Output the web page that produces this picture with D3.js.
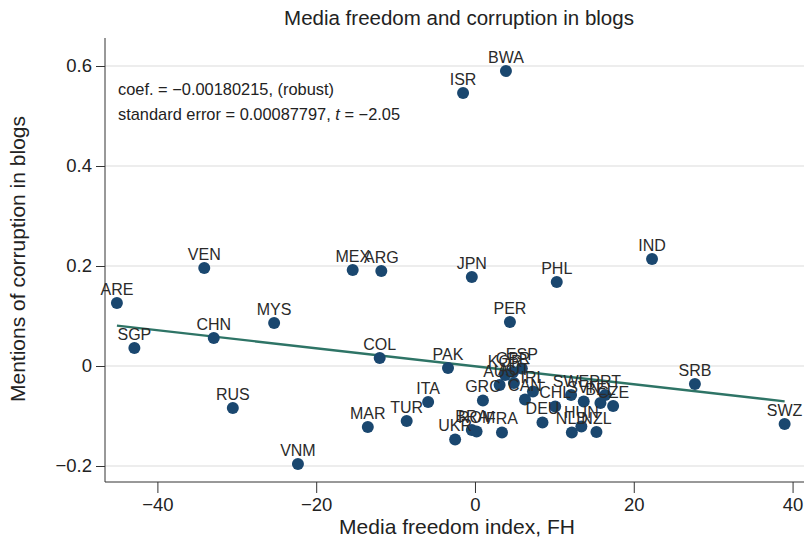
<!DOCTYPE html>
<html>
<head>
<meta charset="utf-8">
<script src="https://cdn.jsdelivr.net/npm/d3@7"></script>
<style>
  body { margin: 0; background: #fff; }
  svg { display: block; font-family: "Liberation Sans", Arial, sans-serif; }
</style>
</head>
<body>
<svg id="chart" width="804" height="541"></svg>
<script>
// country codes, media freedom index (FH) and blog corruption mentions
const countries = ['BWA', 'ISR', 'IND', 'VEN', 'MEX', 'ARG', 'JPN', 'PHL', 'ARE', 'MYS',
  'PER', 'CHN', 'SGP', 'COL', 'PAK', 'SRB', 'RUS', 'ITA', 'TUR', 'MAR',
  'SWZ', 'VNM', 'UKR', 'BRA', 'ROM', 'FRA', 'GRC', 'KOR', 'GBR', 'ESP',
  'AUS', 'AUT', 'CAN', 'IRL', 'CHL', 'DEU', 'SWE', 'SVN', 'BEL', 'PRT',
  'CZE', 'NLD', 'HUN', 'NZL'];
const mediaFreedom = [3.9, -1.5, 22.3, -34.1, -15.4, -11.8, -0.4, 10.3, -45.1, -25.3,
  4.4, -32.9, -42.9, -12.0, -3.4, 27.7, -30.5, -5.9, -8.6, -13.5,
  39.0, -22.3, -2.5, -0.4, 0.2, 3.4, 1.0, 3.8, 4.8, 5.9,
  3.1, 4.9, 6.3, 7.3, 10.1, 8.5, 12.1, 13.7, 15.8, 16.4,
  17.4, 12.2, 13.4, 15.3];
const blogCorruption = [0.590, 0.546, 0.214, 0.196, 0.192, 0.190, 0.178, 0.168, 0.126, 0.086,
  0.088, 0.056, 0.036, 0.016, -0.004, -0.036, -0.084, -0.072, -0.110, -0.122,
  -0.116, -0.196, -0.147, -0.128, -0.131, -0.133, -0.069, -0.018, -0.012, -0.005,
  -0.038, -0.034, -0.067, -0.051, -0.081, -0.113, -0.058, -0.071, -0.074, -0.058,
  -0.080, -0.133, -0.121, -0.132];
const xTicks = [-40, -20, 0, 20, 40];
const yTicks = [-0.2, 0, 0.2, 0.4, 0.6];
const slope = -0.00180215;
const intercept = -0.0005;

const data = countries.map((c, i) => ({ id: c, x: mediaFreedom[i], y: blogCorruption[i] }));

const svg = d3.select('#chart');
const plotLeft = 105;
const plotRight = 804;
const plotTop = 38;
const plotBottom = 482;

const x = d3.scaleLinear().domain([-46.6, 41.44]).range([plotLeft, plotRight]);
const y = d3.scaleLinear().domain([-0.232, 0.656]).range([plotBottom, plotTop]);

// gridlines
svg.append('g')
  .selectAll('line')
  .data(yTicks)
  .join('line')
    .attr('x1', plotLeft)
    .attr('x2', plotRight)
    .attr('y1', (d) => y(d))
    .attr('y2', (d) => y(d))
    .attr('stroke', '#dcdcdc')
    .attr('stroke-width', 1.2);

const fmtY = (d) => (d === 0 ? '0' : d3.format('.1f')(d).replace('-', '\u2212'));
const fmtX = (d) => String(d).replace('-', '\u2212');

// y axis
const yAxis = svg.append('g')
  .attr('transform', `translate(${plotLeft},0)`)
  .call(d3.axisLeft(y).tickValues(yTicks).tickFormat(fmtY).tickSize(9).tickPadding(4));
yAxis.select('.domain').attr('stroke', '#333').attr('d', `M0,${plotTop}V${plotBottom}`);
yAxis.selectAll('.tick line').attr('stroke', '#333');
yAxis.selectAll('.tick text')
  .attr('fill', '#222')
  .style('font-size', '18.5px')
  .style('font-family', '"Liberation Sans", Arial, sans-serif');

// x axis
const xAxis = svg.append('g')
  .attr('transform', `translate(0,${plotBottom})`)
  .call(d3.axisBottom(x).tickValues(xTicks).tickFormat(fmtX).tickSize(11).tickPadding(5));
xAxis.select('.domain').attr('stroke', '#333').attr('d', `M${plotLeft},0H${plotRight}`);
xAxis.selectAll('.tick line').attr('stroke', '#333');
xAxis.selectAll('.tick text')
  .attr('fill', '#222')
  .style('font-size', '18.5px')
  .style('font-family', '"Liberation Sans", Arial, sans-serif');

// fitted line
const xExt = d3.extent(mediaFreedom);
svg.append('line')
  .attr('x1', x(xExt[0]))
  .attr('y1', y(intercept + slope * xExt[0]))
  .attr('x2', x(xExt[1]))
  .attr('y2', y(intercept + slope * xExt[1]))
  .attr('stroke', '#2e7466')
  .attr('stroke-width', 2.4);

// points
svg.append('g')
  .selectAll('circle')
  .data(data)
  .join('circle')
    .attr('cx', (d) => x(d.x))
    .attr('cy', (d) => y(d.y))
    .attr('r', 6)
    .attr('fill', '#1a476f');

// labels
svg.append('g')
  .selectAll('text')
  .data(data)
  .join('text')
    .attr('x', (d) => x(d.x))
    .attr('y', (d) => y(d.y) - 8.5)
    .attr('text-anchor', 'middle')
    .attr('fill', '#2a2a2a')
    .style('font-size', '16px')
    .text((d) => d.id);

// annotation
const note = svg.append('g').attr('fill', '#222').style('font-size', '16.4px');
note.append('text')
  .attr('x', 118)
  .attr('y', 95)
  .text('coef. = \u22120.00180215, (robust)');
const t2 = note.append('text').attr('x', 118).attr('y', 120);
t2.append('tspan').text('standard error = 0.00087797, ');
t2.append('tspan').style('font-style', 'italic').text('t');
t2.append('tspan').text(' = \u22122.05');

// titles
svg.append('text')
  .attr('x', 459)
  .attr('y', 25)
  .attr('text-anchor', 'middle')
  .attr('fill', '#222')
  .style('font-size', '20.5px')
  .text('Media freedom and corruption in blogs');

svg.append('text')
  .attr('x', 457)
  .attr('y', 534)
  .attr('text-anchor', 'middle')
  .attr('fill', '#222')
  .style('font-size', '21px')
  .text('Media freedom index, FH');

svg.append('text')
  .attr('transform', 'translate(25,259) rotate(-90)')
  .attr('text-anchor', 'middle')
  .attr('fill', '#222')
  .style('font-size', '21px')
  .text('Mentions of corruption in blogs');
</script>
</body>
</html>
